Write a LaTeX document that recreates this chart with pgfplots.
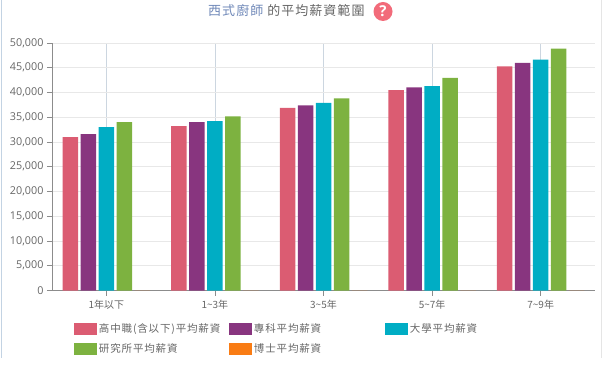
\documentclass[border=0pt]{standalone}
\usepackage{pgfplots}
\pgfplotsset{compat=1.18}
\usepackage{fontspec}
\setmainfont{Open Sans}
\newfontfamily\cjk{Noto Sans CJK TC}
\newfontfamily\cjks[LetterSpace=8]{Noto Sans CJK TC}
\definecolor{cA}{HTML}{DB5C72}
\definecolor{cB}{HTML}{88357F}
\definecolor{cC}{HTML}{00ADC4}
\definecolor{cD}{HTML}{7DB240}
\definecolor{cE}{HTML}{F97C14}
\definecolor{txt}{HTML}{666666}
\definecolor{vgrid}{HTML}{CCD6E0}
\definecolor{edgeL}{HTML}{C3D3E3}
\pgfplotstableread{
x a b c d e
0 31000 31600 33000 34000 0
1 33200 34000 34200 35200 0
2 36900 37400 37900 38800 0
3 40500 41050 41300 42950 0
4 45300 46000 46650 48850 0
}\data
\begin{document}
\begin{tikzpicture}[x=1pt,y=1pt]
\useasboundingbox (0,0) rectangle (602,375);
\draw[color=edgeL,line width=1.2pt] (1.5,375) -- (1.5,17);
\draw[color=black!10,line width=0.8pt] (601,375) -- (601,17);
\begin{axis}[
  at={(52pt,84.5pt)},anchor=south west,
  scale only axis,width=543pt,height=247.5pt,
  xmin=-0.5,xmax=4.5,ymin=0,ymax=50000,
  axis x line*=bottom,axis y line*=left,
  axis line style={color=black!45,line width=0.8pt,-},
  xtick={0,1,2,3,4},
  xticklabels={{\cjk 1年以下},{\cjk 1\textasciitilde3年},{\cjk 3\textasciitilde5年},{\cjk 5\textasciitilde7年},{\cjk 7\textasciitilde9年}},
  ytick={0,5000,...,50000},
  scaled y ticks=false,
  /pgf/number format/assume math mode=true,
  /pgf/number format/1000 sep={,},
  yticklabel style={font=\fontsize{10.8}{13}\selectfont,text=txt},
  xticklabel style={font=\fontsize{10}{12}\selectfont,text=txt,yshift=-1pt},
  tick style={color=black!45,line width=0.7pt},
  tick align=outside,major tick length=5pt,
  ymajorgrids,xmajorgrids,
  y grid style={color=black!9,line width=0.8pt},
  x grid style={color=vgrid,line width=0.7pt},
  ybar=2.5pt,bar width=15.5pt,
  legend columns=3,
  legend style={draw=none,fill=none,at={(0.0405,-0.125)},anchor=north west,
    font=\fontsize{10.5}{13}\selectfont,text=txt,inner sep=0pt,outer sep=0pt,
    row sep=6pt,
    /tikz/every even column/.append style={column sep=4pt}},
  legend cell align=left,
  legend image code/.code={\fill[#1] (0pt,-6pt) rectangle (23pt,6pt);},
]
\addplot[fill=cA,draw=none] table[x=x,y=a]{\data};
\addlegendentry{\makebox[124pt][l]{\cjks 高中職(含以下)平均薪資}}
\addplot[fill=cB,draw=none] table[x=x,y=b]{\data};
\addlegendentry{\makebox[125pt][l]{\cjks 專科平均薪資}}
\addplot[fill=cC,draw=none] table[x=x,y=c]{\data};
\addlegendentry{\makebox[125pt][l]{\cjks 大學平均薪資}}
\addplot[fill=cD,draw=none] table[x=x,y=d]{\data};
\addlegendentry{\makebox[124pt][l]{\cjks 研究所平均薪資}}
\addplot[fill=cE,draw=none] table[x=x,y=e]{\data};
\addlegendentry{\makebox[125pt][l]{\cjks 博士平均薪資}}
\end{axis}
\node[anchor=base west,inner sep=0pt,font=\fontsize{13}{15}\selectfont\cjks,text=txt] at (208,359)
  {\textcolor[HTML]{6F88B8}{西式廚師} 的平均薪資範圍};
\fill[color={rgb,255:red,242;green,107;blue,122}] (383,363.5) circle (9.5);
\node[text=white,font=\bfseries\fontsize{15}{15}\selectfont] at (383,363.5) {?};
\end{tikzpicture}
\end{document}
